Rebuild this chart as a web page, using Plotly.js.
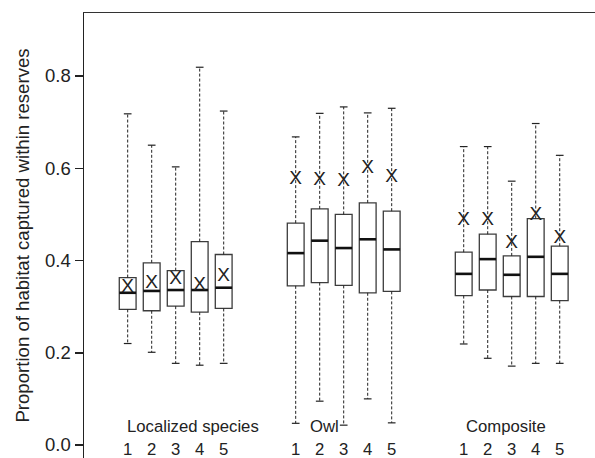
<!DOCTYPE html>
<html>
<head>
<meta charset="utf-8">
<script src="https://cdn.plot.ly/plotly-3.0.1.min.js"></script>
<style>html,body{margin:0;padding:0;background:#fff;}#chart{width:595px;height:458px;}</style>
</head>
<body>
<div id="chart"></div>
<script>
// ---- data ----
const groups = ['Localized species', 'Owl', 'Composite'];
const scenarios = ['1', '2', '3', '4', '5'];
// order: Localized 1-5, Owl 1-5, Composite 1-5
const upperWhisker = [0.718, 0.650, 0.603, 0.819, 0.724,
                      0.668, 0.719, 0.733, 0.720, 0.730,
                      0.647, 0.647, 0.572, 0.697, 0.628];
const q3Values     = [0.363, 0.395, 0.378, 0.441, 0.413,
                      0.481, 0.512, 0.500, 0.525, 0.507,
                      0.418, 0.457, 0.410, 0.491, 0.431];
const medianValues = [0.330, 0.334, 0.336, 0.336, 0.341,
                      0.416, 0.443, 0.427, 0.446, 0.424,
                      0.371, 0.403, 0.369, 0.408, 0.371];
const q1Values     = [0.294, 0.291, 0.301, 0.288, 0.296,
                      0.345, 0.352, 0.346, 0.330, 0.333,
                      0.324, 0.336, 0.322, 0.322, 0.313];
const lowerWhisker = [0.220, 0.201, 0.177, 0.173, 0.177,
                      0.047, 0.095, 0.043, 0.100, 0.048,
                      0.219, 0.188, 0.171, 0.177, 0.177];
const meanValues   = [0.343, 0.350, 0.360, 0.347, 0.365,
                      0.577, 0.573, 0.572, 0.600, 0.580,
                      0.488, 0.488, 0.437, 0.499, 0.448];
const yTicks = [0.0, 0.2, 0.4, 0.6, 0.8];

// ---- layout helpers (positions only) ----
const groupGap = 7;
const xs = [];
groups.forEach((g, gi) => scenarios.forEach((s, si) => xs.push(gi * groupGap + si + 1)));
const groupLabelX = [0.89, 8.5, 15.02];
const capHalf = 0.16, boxHalf = 0.35;
const FONT = 'Liberation Sans, Arial, Helvetica, sans-serif';
const DARK = '#222';

const whiskX = [], whiskY = [], capX = [], capY = [], medX = [], medY = [];
xs.forEach((x, i) => {
  whiskX.push(x, x, null, x, x, null);
  whiskY.push(q3Values[i], upperWhisker[i], null, q1Values[i], lowerWhisker[i], null);
  capX.push(x - capHalf, x + capHalf, null, x - capHalf, x + capHalf, null);
  capY.push(upperWhisker[i], upperWhisker[i], null, lowerWhisker[i], lowerWhisker[i], null);
  medX.push(x - boxHalf, x + boxHalf, null);
  medY.push(medianValues[i], medianValues[i], null);
});

const traces = [
  {type: 'scatter', mode: 'lines', x: whiskX, y: whiskY, hoverinfo: 'skip',
   line: {color: DARK, width: 1, dash: '3px,2px'}},
  {type: 'scatter', mode: 'lines', x: capX, y: capY, hoverinfo: 'skip',
   line: {color: DARK, width: 1.2}},
  {type: 'box', x: xs, q1: q1Values, median: medianValues, q3: q3Values,
   lowerfence: q1Values, upperfence: q3Values, width: 2 * boxHalf,
   boxpoints: false, fillcolor: '#ffffff',
   line: {color: '#3c3c3c', width: 1.3}, whiskerwidth: 0},
  {type: 'scatter', mode: 'lines', x: medX, y: medY, hoverinfo: 'skip',
   line: {color: '#111', width: 2.6}},
  {type: 'scatter', mode: 'text', x: xs, y: meanValues, text: xs.map(() => 'X'),
   textposition: 'middle center', hoverinfo: 'skip',
   textfont: {family: FONT, size: 19, color: DARK}}
];

const annotations = [];
xs.forEach((x, i) => annotations.push({
  x: x, xref: 'x', y: 0.0196, yref: 'paper', text: scenarios[i % scenarios.length],
  showarrow: false, xanchor: 'center', yanchor: 'middle',
  font: {family: FONT, size: 16.7, color: DARK}
}));
groups.forEach((g, gi) => annotations.push({
  x: groupLabelX[gi], xref: 'x', y: 0.070, yref: 'paper', text: g,
  showarrow: false, xanchor: 'left', yanchor: 'middle',
  font: {family: FONT, size: 16.7, color: DARK}
}));

const layout = {
  width: 595, height: 458,
  margin: {l: 84, r: 0, t: 13, b: 0, pad: 0},
  paper_bgcolor: '#fff', plot_bgcolor: '#fff',
  showlegend: false,
  font: {family: FONT, color: DARK},
  xaxis: {range: [-0.82, 20.47], side: 'top', showline: true, linecolor: '#333', linewidth: 1.4,
          showticklabels: false, ticks: '', showgrid: false, zeroline: false, fixedrange: true},
  yaxis: {range: [-0.0282, 0.9366], showline: true, linecolor: '#222', linewidth: 1.5,
          ticks: 'outside', ticklen: 8, tickwidth: 1.5, tickcolor: '#222',
          tickvals: yTicks, ticktext: yTicks.map(v => v.toFixed(1)),
          tickfont: {family: FONT, size: 18.5, color: DARK},
          showgrid: false, zeroline: false, automargin: false,
          title: {text: 'Proportion of habitat captured within reserves', standoff: 10,
                  font: {family: FONT, size: 18.6, color: DARK}}},
  annotations: annotations
};

Plotly.newPlot('chart', traces, layout, {staticPlot: true, displayModeBar: false});
</script>
</body>
</html>
